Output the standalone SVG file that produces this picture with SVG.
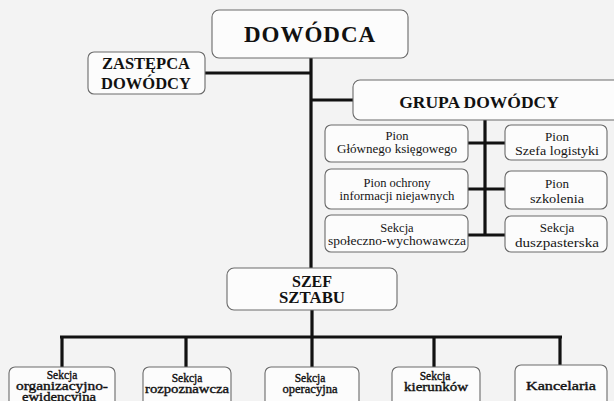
<svg xmlns="http://www.w3.org/2000/svg" width="614" height="401" viewBox="0 0 614 401">
<style>
.bg{fill:#f3f3f3}
.box{fill:#fcfcfc;stroke:#6a6a6a;stroke-width:1.1}
.ln{stroke:#111;stroke-width:3.2;fill:none;stroke-linecap:butt}
.h{font-family:"Liberation Serif","Times New Roman",serif;font-weight:bold;fill:#111;text-anchor:middle}
.t{font-family:"Liberation Serif","Times New Roman",serif;fill:#151515;text-anchor:middle;font-size:12.5px}
.r{font-family:"Liberation Serif","Times New Roman",serif;fill:#151515;text-anchor:middle;font-size:13px}
.b{font-family:"Liberation Serif","Times New Roman",serif;fill:#111;text-anchor:middle;font-size:11.5px;stroke:#111;stroke-width:0.35}
</style>
<rect class="bg" x="0" y="0" width="614" height="401"/>
<g id="connectors">
<line class="ln" x1="311" y1="58" x2="311" y2="268"/>
<line class="ln" x1="205" y1="73" x2="311" y2="73"/>
<line class="ln" x1="311" y1="100" x2="353" y2="100"/>
<line class="ln" x1="485" y1="120" x2="485" y2="236"/>
<line class="ln" x1="468" y1="143" x2="505" y2="143"/>
<line class="ln" x1="468" y1="189" x2="505" y2="189"/>
<line class="ln" x1="468" y1="235" x2="505" y2="235"/>
<line class="ln" x1="312" y1="310" x2="312" y2="337"/>
<line class="ln" x1="60" y1="337" x2="562" y2="337"/>
<line class="ln" x1="62" y1="337" x2="62" y2="367"/>
<line class="ln" x1="186" y1="337" x2="186" y2="367"/>
<line class="ln" x1="312" y1="337" x2="312" y2="367"/>
<line class="ln" x1="434" y1="337" x2="434" y2="367"/>
<line class="ln" x1="560" y1="337" x2="560" y2="366"/>
</g>
<g id="dowodca">
<rect class="box" x="212" y="10" width="196" height="48" rx="7"/>
<text class="h" x="310" y="42" font-size="23" letter-spacing="1">DOWÓDCA</text>
</g>
<g id="zastepca">
<rect class="box" x="88" y="52" width="117" height="42" rx="6"/>
<text class="h" x="146" y="69" font-size="16.5">ZASTĘPCA</text>
<text class="h" x="146" y="89" font-size="16.5">DOWÓDCY</text>
</g>
<g id="grupa">
<rect class="box" x="353" y="80" width="270" height="40" rx="7"/>
<text class="h" x="479" y="108" font-size="17.5">GRUPA DOWÓDCY</text>
</g>
<g id="pion-ksiegowego">
<rect class="box" x="325" y="125" width="143" height="37" rx="6"/>
<text class="t" x="397" y="140">Pion</text>
<text class="t" x="397" y="153" textLength="120" lengthAdjust="spacingAndGlyphs">Głównego księgowego</text>
</g>
<g id="pion-logistyki">
<rect class="box" x="505" y="125" width="102" height="35" rx="6"/>
<text class="r" x="557" y="141">Pion</text>
<text class="r" x="557" y="155" textLength="84" lengthAdjust="spacingAndGlyphs">Szefa logistyki</text>
</g>
<g id="pion-ochrony">
<rect class="box" x="325" y="169" width="143" height="40" rx="6"/>
<text class="t" x="397" y="187">Pion ochrony</text>
<text class="t" x="397" y="200" textLength="115" lengthAdjust="spacingAndGlyphs">informacji niejawnych</text>
</g>
<g id="pion-szkolenia">
<rect class="box" x="505" y="171" width="102" height="38" rx="6"/>
<text class="r" x="557" y="188">Pion</text>
<text class="r" x="557" y="203" textLength="54" lengthAdjust="spacingAndGlyphs">szkolenia</text>
</g>
<g id="sekcja-spoleczno">
<rect class="box" x="325" y="215" width="143" height="37" rx="6"/>
<text class="t" x="397" y="232">Sekcja</text>
<text class="t" x="397" y="245" textLength="138" lengthAdjust="spacingAndGlyphs">społeczno-wychowawcza</text>
</g>
<g id="sekcja-duszpasterska">
<rect class="box" x="505" y="216" width="102" height="36" rx="6"/>
<text class="r" x="557" y="232">Sekcja</text>
<text class="r" x="557" y="247" textLength="84" lengthAdjust="spacingAndGlyphs">duszpasterska</text>
</g>
<g id="szef-sztabu">
<rect class="box" x="227" y="268" width="170" height="42" rx="7"/>
<text class="h" x="312" y="287" font-size="16">SZEF</text>
<text class="h" x="312" y="303" font-size="16" textLength="66" lengthAdjust="spacingAndGlyphs">SZTABU</text>
</g>
<g id="sekcja-organizacyjno">
<rect class="box" x="9" y="367" width="106" height="44" rx="6"/>
<text class="b" x="62" y="379">Sekcja</text>
<text class="b" x="62" y="390" textLength="92" lengthAdjust="spacingAndGlyphs">organizacyjno-</text>
<text class="b" x="59" y="401" textLength="74" lengthAdjust="spacingAndGlyphs">ewidencyjna</text>
</g>
<g id="sekcja-rozpoznawcza">
<rect class="box" x="143" y="367" width="88" height="44" rx="6"/>
<text class="b" x="187" y="382">Sekcja</text>
<text class="b" x="187" y="393" textLength="84" lengthAdjust="spacingAndGlyphs">rozpoznawcza</text>
</g>
<g id="sekcja-operacyjna">
<rect class="box" x="265" y="367" width="94" height="44" rx="6"/>
<text class="b" x="310" y="382">Sekcja</text>
<text class="b" x="310" y="393" textLength="55" lengthAdjust="spacingAndGlyphs">operacyjna</text>
</g>
<g id="sekcja-kierunkow">
<rect class="box" x="392" y="367" width="88" height="44" rx="6"/>
<text class="b" x="435" y="380">Sekcja</text>
<text class="b" x="436" y="391" textLength="64" lengthAdjust="spacingAndGlyphs">kierunków</text>
</g>
<g id="kancelaria">
<rect class="box" x="515" y="365" width="92" height="46" rx="6"/>
<text class="b" x="561" y="390" textLength="70" lengthAdjust="spacingAndGlyphs">Kancelaria</text>
</g>
</svg>
